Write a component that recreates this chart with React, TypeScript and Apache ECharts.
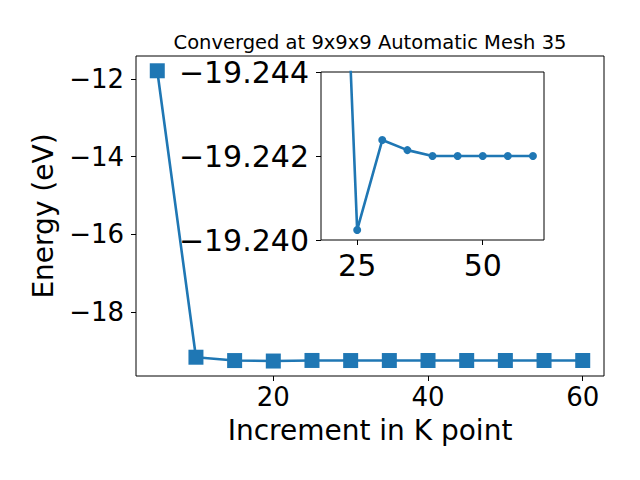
import React, { useEffect, useRef } from "react";
import * as echarts from "echarts";

const kPoints = [5, 10, 15, 20, 25, 30, 35, 40, 45, 50, 55, 60];
const energy = [-11.79, -19.157, -19.243, -19.255, -19.24024, -19.24238, -19.24214, -19.242, -19.242, -19.242, -19.242, -19.242];
const mainXTicks = [20, 40, 60];
const mainYTicks = [-18, -16, -14, -12];
const insetXTicks = [25, 50];
const insetYTicks = [-19.244, -19.242, -19.24];
const titleText = "Converged at 9x9x9 Automatic Mesh 35";
const xLabel = "Increment in K point";
const yLabel = "Energy (eV)";

const FONT = "DejaVu Sans";
const BLUE = "#1f77b4";

const minus = (s: string) => s.replace("-", "\u2212");

export default function App() {
  const ref = useRef<HTMLDivElement>(null);
  useEffect(() => {
    if (!ref.current) return;
    const chart = echarts.init(ref.current, null, { renderer: "svg" });
    const pts = kPoints.map((x, i) => [x, energy[i]]);
    const tickStyle = { show: true, inside: false, length: 5, lineStyle: { color: "#000", width: 1 } };
    chart.setOption({
      animation: false,
      backgroundColor: "#fff",
      textStyle: { fontFamily: FONT },
      grid: [
        { left: 136, top: 56, width: 468, height: 320, show: true, borderColor: "#000", borderWidth: 1, backgroundColor: "transparent" },
        { left: 321, top: 72, width: 223, height: 168, show: true, borderColor: "#000", borderWidth: 1, backgroundColor: "#fff" },
      ],
      xAxis: [
        {
          type: "value", gridIndex: 0, min: 2.25, max: 62.75,
          splitLine: { show: false }, axisLine: { show: false },
          axisTick: { ...tickStyle, customValues: mainXTicks },
          axisLabel: { customValues: mainXTicks, fontSize: 26, color: "#000", fontFamily: FONT, margin: 8 },
          name: xLabel, nameLocation: "middle", nameGap: 40,
          nameTextStyle: { fontSize: 28, color: "#000", fontFamily: FONT, verticalAlign: "top" },
        },
        {
          type: "value", gridIndex: 1, min: 17.8, max: 62.2,
          splitLine: { show: false }, axisLine: { show: false },
          axisTick: { ...tickStyle, customValues: insetXTicks },
          axisLabel: { customValues: insetXTicks, fontSize: 30, color: "#000", fontFamily: FONT, margin: 10 },
        },
      ],
      yAxis: [
        {
          type: "value", gridIndex: 0, min: -19.64, max: -11.41,
          splitLine: { show: false }, axisLine: { show: false },
          axisTick: { ...tickStyle, customValues: mainYTicks },
          axisLabel: { customValues: mainYTicks, fontSize: 26, color: "#000", fontFamily: FONT, margin: 12, formatter: (v: number) => minus(String(v)) },
          name: yLabel, nameLocation: "middle", nameGap: 79, nameRotate: 90,
          nameTextStyle: { fontSize: 28, color: "#000", fontFamily: FONT },
        },
        {
          type: "value", gridIndex: 1, min: -19.244, max: -19.24, inverse: true,
          splitLine: { show: false }, axisLine: { show: false },
          axisTick: { ...tickStyle, customValues: insetYTicks },
          axisLabel: { customValues: insetYTicks, fontSize: 30, color: "#000", fontFamily: FONT, margin: 12, formatter: (v: number) => minus(v.toFixed(3)) },
        },
      ],
      graphic: [
        { type: "text", x: 370, y: 42, style: { text: titleText, fontSize: 19.5, fontFamily: FONT, fill: "#000", align: "center", verticalAlign: "middle" } },
      ],
      series: [
        {
          type: "line", xAxisIndex: 0, yAxisIndex: 0, data: pts,
          symbol: "rect", symbolSize: 15, itemStyle: { color: BLUE },
          lineStyle: { color: BLUE, width: 2.6 }, clip: true,
        },
        {
          type: "line", xAxisIndex: 1, yAxisIndex: 1, data: pts,
          symbol: "circle", symbolSize: 8, itemStyle: { color: BLUE },
          lineStyle: { color: BLUE, width: 2.6 }, clip: true, z: 5,
        },
      ],
    });
    return () => chart.dispose();
  }, []);
  return <div ref={ref} style={{ position: "fixed", left: 0, top: 0, width: 640, height: 480 }} />;
}
